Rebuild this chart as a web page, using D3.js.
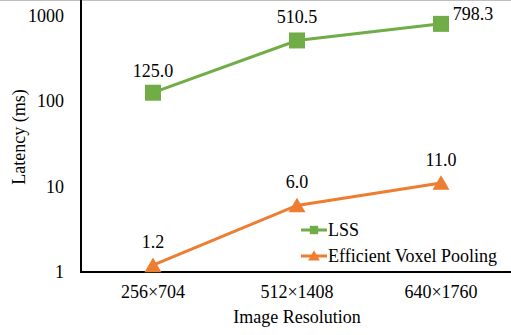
<!DOCTYPE html>
<html>
<head>
<meta charset="utf-8">
<script src="https://cdn.jsdelivr.net/npm/d3@7.9.0/dist/d3.min.js"></script>
<style>
  body { margin: 0; background: #fff; }
</style>
</head>
<body>
<svg id="chart" width="511" height="335" font-family="'Liberation Serif', 'Times New Roman', 'DejaVu Serif', serif"></svg>
<script>
const categories = ['256×704', '512×1408', '640×1760'];
const lssValues = [125.0, 510.5, 798.3];
const evpValues = [1.2, 6.0, 11.0];
const yTicks = [1, 10, 100, 1000];

const series = [
  { name: 'LSS', values: lssValues, color: '#70AD47', marker: 'square' },
  { name: 'Efficient Voxel Pooling', values: evpValues, color: '#ED7D31', marker: 'triangle' },
];

const svg = d3.select('#chart');
const plotLeft = 81, plotRight = 513, plotTop = 15.5, plotBottom = 272;
const fs = 18;

// chart border line at top
svg.append('line')
  .attr('x1', 0).attr('x2', 511).attr('y1', 0.5).attr('y2', 0.5)
  .attr('stroke', '#bfbfbf').attr('stroke-width', 1);

let x = d3.scalePoint().domain(categories).range([plotLeft, plotRight]).padding(0.5);
let y = d3.scaleLog().domain([1, 1000]).range([plotBottom, plotTop]);

// axes
svg.append('line')
  .attr('x1', plotLeft).attr('x2', plotLeft).attr('y1', 0).attr('y2', plotBottom)
  .attr('stroke', '#000').attr('stroke-width', 2);
svg.append('line')
  .attr('x1', plotLeft - 1).attr('x2', 511).attr('y1', plotBottom).attr('y2', plotBottom)
  .attr('stroke', '#000').attr('stroke-width', 2);

svg.selectAll('.ytick')
  .data(yTicks)
  .join('text')
  .attr('class', 'ytick')
  .attr('x', plotLeft - 17)
  .attr('y', (d) => y(d))
  .attr('dy', '0.35em')
  .attr('text-anchor', 'end')
  .attr('font-size', fs)
  .text((d) => d);

svg.selectAll('.xtick')
  .data(categories)
  .join('text')
  .attr('class', 'xtick')
  .attr('x', (d) => x(d))
  .attr('y', 298)
  .attr('text-anchor', 'middle')
  .attr('font-size', fs)
  .text((d) => d);

svg.append('text')
  .attr('x', 297).attr('y', 323)
  .attr('text-anchor', 'middle')
  .attr('font-size', fs)
  .text('Image Resolution');

svg.append('text')
  .attr('transform', 'translate(25,137) rotate(-90)')
  .attr('text-anchor', 'middle')
  .attr('font-size', fs)
  .text('Latency (ms)');

const square = d3.symbol().type(d3.symbolSquare).size(256);
const triangle = d3.symbol().type(d3.symbolTriangle).size(125);

function markerPath(m) {
  return m === 'square' ? square() : triangle();
}

let line = d3.line().x((d, i) => x(categories[i])).y((d) => y(d));

series.forEach((s) => {
  svg.append('path')
    .attr('d', line(s.values))
    .attr('fill', 'none')
    .attr('stroke', s.color)
    .attr('stroke-width', 3);

  svg.selectAll(null)
    .data(s.values)
    .join('path')
    .attr('d', markerPath(s.marker))
    .attr('transform', (d, i) => `translate(${x(categories[i])},${y(d) + (s.marker === 'triangle' ? 2 : 0)})`)
    .attr('fill', s.color);
});

// data labels
const labelOffsets = {
  LSS: [[0, -16], [0, -17], [32, -4]],
  'Efficient Voxel Pooling': [[0, -17], [0, -17], [0, -17]],
};
series.forEach((s) => {
  svg.selectAll(null)
    .data(s.values)
    .join('text')
    .attr('x', (d, i) => x(categories[i]) + labelOffsets[s.name][i][0])
    .attr('y', (d, i) => y(d) + labelOffsets[s.name][i][1])
    .attr('text-anchor', 'middle')
    .attr('font-size', fs)
    .text((d) => d.toFixed(1));
});

// legend
series.forEach((s, i) => {
  let ly = 230 + i * 26;
  let g = svg.append('g').attr('transform', `translate(301,${ly})`);
  g.append('line')
    .attr('x1', 0).attr('x2', 26).attr('y1', 0).attr('y2', 0)
    .attr('stroke', s.color).attr('stroke-width', 3);
  g.append('path')
    .attr('d', s.marker === 'square'
      ? d3.symbol().type(d3.symbolSquare).size(70)()
      : d3.symbol().type(d3.symbolTriangle).size(60)())
    .attr('transform', `translate(13,${s.marker === 'triangle' ? 1 : 0})`)
    .attr('fill', s.color);
  g.append('text')
    .attr('x', 27).attr('y', 0)
    .attr('dy', '0.35em')
    .attr('font-size', fs)
    .text(s.name);
});
</script>
</body>
</html>
